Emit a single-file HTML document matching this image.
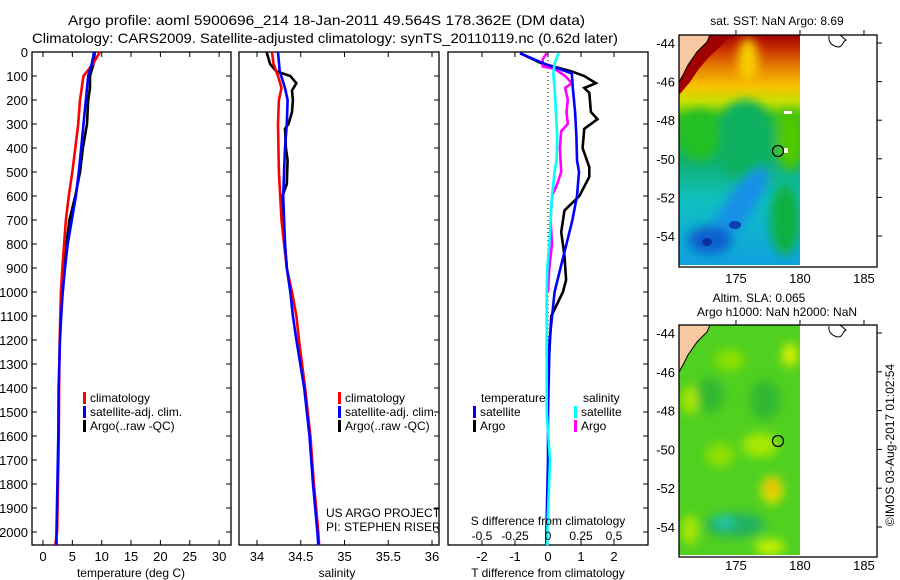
<!DOCTYPE html>
<html><head><meta charset="utf-8">
<style>
html,body{margin:0;padding:0;background:#fff;}
svg{display:block;font-family:"Liberation Sans",sans-serif;}
text{fill:#000;}
</style></head>
<body>
<svg id="fig" width="900" height="580" viewBox="0 0 900 580" xmlns="http://www.w3.org/2000/svg">
<defs>
<linearGradient id="sstg" x1="0" y1="0" x2="0" y2="1">
<stop offset="0" stop-color="#a00000"/>
<stop offset="0.06" stop-color="#c83000"/>
<stop offset="0.14" stop-color="#e88000"/>
<stop offset="0.22" stop-color="#f8c000"/>
<stop offset="0.29" stop-color="#c8e000"/>
<stop offset="0.36" stop-color="#30c020"/>
<stop offset="0.55" stop-color="#10b070"/>
<stop offset="0.72" stop-color="#10c0c0"/>
<stop offset="1" stop-color="#10a0e0"/>
</linearGradient>
<filter id="blur4"><feGaussianBlur stdDeviation="5"/></filter>
<clipPath id="clipm1"><rect x="679" y="35" width="121" height="230"/></clipPath>
<clipPath id="clipm2"><rect x="679" y="325" width="121" height="230"/></clipPath>
</defs>
<g id="titles">
<text x="68" y="25" font-size="14" textLength="517" lengthAdjust="spacingAndGlyphs">Argo profile: aoml 5900696_214 18-Jan-2011 49.564S 178.362E (DM data)</text>
<text x="32" y="43" font-size="14" textLength="586" lengthAdjust="spacingAndGlyphs">Climatology: CARS2009. Satellite-adjusted climatology: synTS_20110119.nc (0.62d later)</text>
</g>
<g id="panels"></g>
<g id="maps">
<text x="777" y="25" text-anchor="middle" font-size="12">sat. SST: NaN Argo: 8.69</text>
<g clip-path="url(#clipm1)">
<rect x="679" y="35" width="121" height="230" fill="url(#sstg)"/>
<g filter="url(#blur4)">
<ellipse cx="748" cy="60" rx="10" ry="22" fill="#f8d000"/>
<ellipse cx="745" cy="140" rx="30" ry="40" fill="#10b060"/>
<ellipse cx="700" cy="135" rx="20" ry="25" fill="#20c020"/>
<ellipse cx="790" cy="140" rx="14" ry="30" fill="#50c800"/>
<ellipse cx="740" cy="205" rx="14" ry="45" fill="#1890e8" transform="rotate(35 740 205)"/>
<ellipse cx="710" cy="240" rx="22" ry="14" fill="#1060d0"/>
<ellipse cx="785" cy="220" rx="15" ry="35" fill="#10b040"/>
</g>
<ellipse cx="735" cy="225" rx="6" ry="4" fill="#0840b0"/>
<ellipse cx="707" cy="242" rx="5" ry="4" fill="#0830a0"/>
<polygon points="679,35 730,35 722,45 708,58 698,70 690,82 679,95" fill="#a00000"/>
<polygon points="679,35 710,35 707,42 697,52 688,65 683,75 679,82" fill="#f8c8a0" stroke="#000" stroke-width="1"/>
<rect x="784" y="111" width="8" height="3" fill="#fff"/>
<rect x="784" y="148" width="4" height="5" fill="#fff"/>
</g>
<path d="M829,36 C828,42 832,46 838,47 C843,47 842,42 846,40 C843,38 842,36 840,35" fill="none" stroke="#000" stroke-width="1"/>
<rect x="679" y="35" width="198" height="232" fill="none" stroke="#000" stroke-width="1.3"/>
<circle cx="778" cy="151" r="5.5" fill="none" stroke="#000" stroke-width="1.2"/>
<text x="759" y="302" text-anchor="middle" font-size="12">Altim. SLA: 0.065</text>
<text x="777" y="316" text-anchor="middle" font-size="12">Argo h1000: NaN h2000: NaN</text>
<g clip-path="url(#clipm2)">
<rect x="679" y="325" width="121" height="230" fill="#50d020"/>
<g filter="url(#blur4)">
<ellipse cx="790" cy="355" rx="8" ry="12" fill="#d8f000"/>
<ellipse cx="730" cy="360" rx="15" ry="10" fill="#90e000"/>
<ellipse cx="710" cy="395" rx="14" ry="18" fill="#30b830"/>
<ellipse cx="765" cy="400" rx="15" ry="20" fill="#30b830"/>
<ellipse cx="690" cy="400" rx="8" ry="14" fill="#b0e800"/>
<ellipse cx="760" cy="445" rx="18" ry="12" fill="#a8e800"/>
<ellipse cx="772" cy="490" rx="11" ry="14" fill="#e8e000"/>
<ellipse cx="772" cy="487" rx="4" ry="7" fill="#f0a000"/>
<ellipse cx="720" cy="455" rx="14" ry="12" fill="#90e000"/>
<ellipse cx="735" cy="525" rx="30" ry="12" fill="#20b060"/>
<ellipse cx="725" cy="522" rx="10" ry="6" fill="#20c8b0"/>
<ellipse cx="770" cy="547" rx="15" ry="8" fill="#c8f000"/>
<ellipse cx="690" cy="530" rx="8" ry="15" fill="#b0e800"/>
</g>
<polygon points="679,325 710,325 707,332 697,342 688,355 683,365 679,372" fill="#f8c8a0" stroke="#000" stroke-width="1"/>
</g>
<path d="M829,326 C828,332 832,336 838,337 C843,337 842,332 846,330 C843,328 842,326 840,325" fill="none" stroke="#000" stroke-width="1"/>
<rect x="679" y="325" width="198" height="232" fill="none" stroke="#000" stroke-width="1.3"/>
<circle cx="778" cy="441" r="5.5" fill="none" stroke="#000" stroke-width="1.2"/>
<g id="mapticks"></g>
<text transform="translate(894,445) rotate(-90)" text-anchor="middle" font-size="12">©IMOS 03-Aug-2017 01:02:54</text>
</g>
</svg>
<script>
const tDepth = [0,50,100,200,300,400,500,600,700,800,900,1000,1100,1200,1400,1600,1800,2000,2055];
const tClim  = [9.7,8.5,6.9,6.3,6.0,5.5,5.0,4.4,3.9,3.6,3.3,3.05,2.95,2.85,2.75,2.7,2.55,2.4,2.1];
const tSat   = [8.7,8.3,7.7,7.3,6.9,6.5,6.1,5.6,4.9,4.2,3.75,3.35,3.1,2.9,2.65,2.6,2.45,2.3,2.3];
const argoDepth = [0,50,100,150,200,250,300,400,500,600,700,800,900,1000];
const tArgo  = [8.8,8.6,8.0,8.0,7.7,7.6,7.5,6.8,6.3,5.5,4.5,4.0,3.7,3.35];
const sDepth = [0,50,100,150,200,300,500,700,800,900,1000,1100,1200,1400,1600,1800,2000,2055];
const sClim  = [34.17,34.19,34.24,34.28,34.25,34.24,34.25,34.28,34.31,34.34,34.40,34.45,34.48,34.55,34.61,34.65,34.70,34.71];
const sSatDepth = [0,80,150,200,300,400,500,600,700,800,900,1000,1100,1200,1400,1600,1800,2000,2055];
const sSat   = [34.24,34.26,34.32,34.35,34.34,34.32,34.31,34.30,34.31,34.32,34.34,34.38,34.41,34.45,34.54,34.60,34.64,34.69,34.70];
const sArgoDepth = [0,50,80,100,130,160,200,250,300,320,400,450,550,600,700,900];
const sArgo  = [34.11,34.15,34.22,34.38,34.45,34.40,34.41,34.40,34.36,34.32,34.33,34.35,34.34,34.29,34.30,34.34];
const dDepth = [5,47,89,150,250,350,450,500,600,700,800,900,1000,1200,1500,1700,2000,2055];
const dTSat  = [-0.85,-0.14,0.72,0.75,0.82,0.86,0.88,0.94,0.88,0.74,0.56,0.38,0.2,0.05,0.0,0.0,-0.05,-0.05];
const dArgoDepth = [5,47,80,100,130,150,170,250,280,320,400,480,520,600,660,750,850,950,1000,1100,1300];
const dTArgo = [-0.85,-0.2,0.7,1.1,1.45,1.1,1.25,1.3,1.5,1.1,1.05,1.25,1.25,0.95,0.5,0.4,0.5,0.55,0.45,0.1,0.02];
const dSSat  = [0.08,0.05,0.04,0.05,0.06,0.07,0.065,0.05,0.03,0.02,0.01,-0.005,-0.01,-0.01,-0.01,0.015,-0.005,-0.005];
const dSArgoDepth = [5,30,60,70,100,130,150,200,250,300,330,400,500,550,600,700,800,900,1000];
const dSArgo = [-0.01,-0.04,-0.04,0.05,0.13,0.18,0.13,0.15,0.14,0.15,0.10,0.09,0.10,0.07,0.03,0.02,0.03,0.01,0.0];
const depthTicks = [0,100,200,300,400,500,600,700,800,900,1000,1100,1200,1300,1400,1500,1600,1700,1800,1900,2000];
const tempTicks = [0,5,10,15,20,25,30];
const salTicks = [34,34.5,35,35.5,36];
const salTickLabels = ["34","34.5","35","35.5","36"];
const dTTicks = [-2,-1,0,1,2];
const dSTicks = [-0.5,-0.25,0,0.25,0.5];
const dSTickLabels = ["-0.5","-0.25","0","0.25","0.5"];
const lonTicks = [175,180,185];
const latTicks = [-44,-46,-48,-50,-52,-54];

const yTop=52, yBot=545;
const yD = d => yTop + d*0.24;
const xT = t => 43 + t*5.87;
const xS = s => 257 + (s-34)*87.5;
const xDT = t => 548 + t*33;
const xDS = s => 548 + s*132;
const lonX = l => 679 + (l-170.55)*12.8;
const latY1 = la => 43 + (-44-la)*19.3;
const latY2 = la => 333 + (-44-la)*19.4;

const NS="http://www.w3.org/2000/svg";
const P=document.getElementById('panels');
function mk(tag, attrs, parent){const e=document.createElementNS(NS,tag);for(const k in attrs)e.setAttribute(k,attrs[k]);(parent||P).appendChild(e);return e;}
function drawLine(xs, ds, xf, color, name){
  const pts = xs.map((v,i)=>xf(v).toFixed(1)+','+yD(ds[i]).toFixed(1)).join(' ');
  const e=mk('polyline',{points:pts,fill:'none',stroke:color,'stroke-width':2.6,'stroke-linejoin':'miter'});
  
  
}
function frame(x0,x1,name){
  const r=mk('rect',{x:x0,y:yTop,width:x1-x0,height:yBot-yTop,fill:'none',stroke:'#000','stroke-width':1.3});
  
  
  depthTicks.forEach(d=>{
    mk('line',{x1:x1,x2:x1-5,y1:yD(d),y2:yD(d),stroke:'#000','stroke-width':1});
    if(x0<40) mk('line',{x1:x0,x2:x0+5,y1:yD(d),y2:yD(d),stroke:'#000','stroke-width':1});
  });
}
function xticks(vals, labels, f, ly){
  vals.forEach((v,i)=>{
    mk('line',{x1:f(v),x2:f(v),y1:yBot,y2:yBot-5,stroke:'#000','stroke-width':1});
    mk('line',{x1:f(v),x2:f(v),y1:yTop,y2:yTop+5,stroke:'#000','stroke-width':1});
    const t=mk('text',{x:f(v),y:ly,'text-anchor':'middle','font-size':13});
    t.textContent=labels[i];
    
    
  });
}
function txt(x,y,s,size,name,anchor){
  const t=mk('text',{x:x,y:y,'font-size':size,'text-anchor':anchor||'start'});
  t.textContent=s;
  
  
  return t;
}
function legend(x,y,color,label){
  mk('rect',{x:x,y:y-10,width:3,height:12,fill:color});
  txt(x+7,y,label,12,'legend-entry');
}

depthTicks.forEach(d=>{
  const t=mk('text',{x:28,y:yD(d)+5,'text-anchor':'end','font-size':13});
  t.textContent=d;
  
  
});

frame(32,231,'temperature-panel-frame');
xticks(tempTicks, tempTicks.map(String), xT, 561);
txt(131,577,'temperature (deg C)',12,'temperature-axis-title','middle');
drawLine(tArgo,argoDepth,xT,'#000','temp-argo-line');
drawLine(tClim,tDepth,xT,'#ff0000','temp-clim-line');
drawLine(tSat,tDepth,xT,'#0000ff','temp-sat-line');
legend(83,402,'#ff0000','climatology');
legend(83,416,'#0000ff','satellite-adj. clim.');
legend(83,430,'#000','Argo(..raw -QC)');

frame(239,439,'salinity-panel-frame');
xticks(salTicks, salTickLabels, xS, 561);
txt(337,577,'salinity',12,'salinity-axis-title','middle');
drawLine(sArgo,sArgoDepth,xS,'#000','sal-argo-line');
drawLine(sClim,sDepth,xS,'#ff0000','sal-clim-line');
drawLine(sSat,sSatDepth,xS,'#0000ff','sal-sat-line');
legend(338,402,'#ff0000','climatology');
legend(338,416,'#0000ff','satellite-adj. clim.');
legend(338,430,'#000','Argo(..raw -QC)');
txt(326,517,'US ARGO PROJECT',12,'project-label');
txt(326,531,'PI: STEPHEN RISER',12,'pi-label');

frame(448,648,'difference-panel-frame');
xticks(dTTicks, dTTicks.map(String), xDT, 561);
mk('line',{x1:548,x2:548,y1:yTop,y2:yBot,stroke:'#000','stroke-width':1,'stroke-dasharray':'1,3'});
drawLine(dTArgo,dArgoDepth,xDT,'#000','tdiff-argo-line');
drawLine(dSArgo,dSArgoDepth,xDS,'#ff00ff','sdiff-argo-line');
drawLine(dTSat,dDepth,xDT,'#0000ff','tdiff-sat-line');
drawLine(dSSat,dDepth,xDS,'#00ffff','sdiff-sat-line');
dSTicks.forEach((v,i)=>{txt(xDS(v),540,dSTickLabels[i],12,'s-tick-label','middle');});
txt(548,525,'S difference from climatology',12,'s-diff-axis-title','middle');
txt(548,577,'T difference from climatology',12,'t-diff-axis-title','middle');
txt(481,402,'temperature',12,'legend-temperature-header');
txt(583,402,'salinity',12,'legend-salinity-header');
legend(473,416,'#0000ff','satellite');
legend(473,430,'#000','Argo');
legend(574,416,'#00ffff','satellite');
legend(574,430,'#ff00ff','Argo');

const M=document.getElementById('mapticks');
[[latY1,35,267,283],[latY2,325,557,570]].forEach(([ly,y0,y1,lby])=>{
  lonTicks.forEach(l=>{
    mk('line',{x1:lonX(l),x2:lonX(l),y1:y0,y2:y0-5,stroke:'#000'},M);
    const t=mk('text',{x:lonX(l),y:lby,'text-anchor':'middle','font-size':13},M);
    t.textContent=l;
    
    
  });
  latTicks.forEach(la=>{
    mk('line',{x1:877,x2:882,y1:ly(la),y2:ly(la),stroke:'#000'},M);
    const t=mk('text',{x:675,y:ly(la)+5,'text-anchor':'end','font-size':13},M);
    t.textContent=la;
    
    
  });
});
</script>
</body></html>
